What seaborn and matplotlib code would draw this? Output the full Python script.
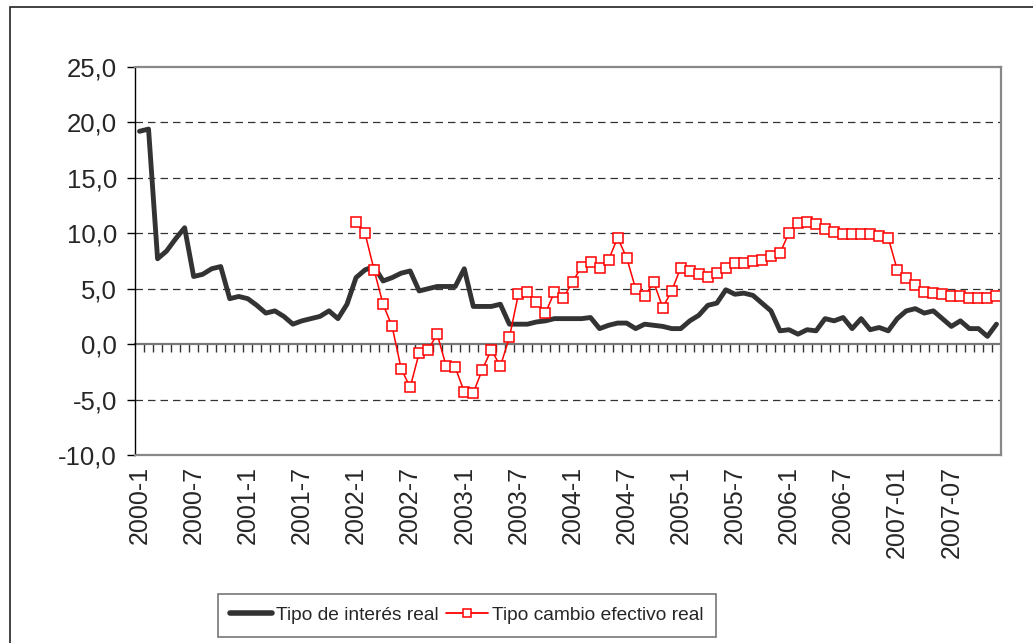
import numpy as np
import pandas as pd
import matplotlib
matplotlib.use('Agg')
import matplotlib.pyplot as plt
import seaborn as sns
from matplotlib import font_manager
from matplotlib.lines import Line2D
from matplotlib.patches import Rectangle
from matplotlib.ticker import FuncFormatter

# ---------- data (monthly, 2000-1 .. 2007-12) ----------
interes_real = [19.2, 19.4, 7.7, 8.4, 9.5, 10.5, 6.1, 6.3, 6.8, 7.0, 4.1, 4.3,
                4.1, 3.5, 2.8, 3.0, 2.5, 1.8, 2.1, 2.3, 2.5, 3.0, 2.3, 3.6,
                6.0, 6.7, 7.0, 5.7, 6.0, 6.4, 6.6, 4.8, 5.0, 5.2, 5.2, 5.2,
                6.8, 3.4, 3.4, 3.4, 3.6, 1.8, 1.8, 1.8, 2.0, 2.1, 2.3, 2.3,
                2.3, 2.3, 2.4, 1.4, 1.7, 1.9, 1.9, 1.4, 1.8, 1.7, 1.6, 1.4,
                1.4, 2.1, 2.6, 3.5, 3.7, 4.9, 4.5, 4.6, 4.4, 3.7, 3.0, 1.2,
                1.3, 0.9, 1.3, 1.2, 2.3, 2.1, 2.4, 1.4, 2.3, 1.3, 1.5, 1.2,
                2.3, 3.0, 3.2, 2.8, 3.0, 2.3, 1.6, 2.1, 1.4, 1.4, 0.7, 1.8]

# starts at 2002-1
cambio_real = [11.0, 10.0, 6.7, 3.6, 1.6, -2.2, -3.9, -0.8, -0.5, 0.9, -2.0, -2.1,
               -4.3, -4.4, -2.3, -0.5, -2.0, 0.6, 4.5, 4.7, 3.8, 2.8, 4.7, 4.2,
               5.6, 7.0, 7.4, 6.9, 7.6, 9.6, 7.8, 5.0, 4.3, 5.6, 3.3, 4.8,
               6.9, 6.6, 6.3, 6.1, 6.4, 6.9, 7.3, 7.3, 7.5, 7.6, 7.95, 8.2,
               10.05, 10.9, 11.0, 10.8, 10.4, 10.1, 9.9, 9.9, 9.9, 9.9, 9.75, 9.6,
               6.7, 6.0, 5.3, 4.7, 4.65, 4.5, 4.35, 4.3, 4.2, 4.2, 4.2, 4.35]

tick_labels = ['2000-1', '2000-7', '2001-1', '2001-7', '2002-1', '2002-7',
               '2003-1', '2003-7', '2004-1', '2004-7', '2005-1', '2005-7',
               '2006-1', '2006-7', '2007-01', '2007-07']

n = len(interes_real)
df = pd.DataFrame({
    'mes': np.arange(n),
    'interes': interes_real,
    'cambio': [np.nan] * (n - len(cambio_real)) + cambio_real,
})

sns.set_style('white')
plt.rcParams['font.family'] = ['Liberation Sans', 'DejaVu Sans']

names = {f.name for f in font_manager.fontManager.ttflist}
if 'Liberation Sans Narrow' in names:
    legend_font = {'family': 'Liberation Sans Narrow', 'size': 16.5}
else:
    legend_font = {'family': 'Liberation Sans', 'size': 13.8}

fig = plt.figure(figsize=(10.33, 6.43), dpi=100)
ax = fig.add_axes([0.1307, 0.2924, 0.8383, 0.6034])

sns.lineplot(data=df, x='mes', y='interes', ax=ax, color='#333333', linewidth=3.5)
sns.lineplot(data=df.dropna(), x='mes', y='cambio', ax=ax, color='#ff0000', linewidth=1.1,
             marker='s', markersize=6.5, markerfacecolor='white',
             markeredgecolor='#ff0000', markeredgewidth=1.1)

ax.set_xlim(-0.5, n - 0.5)
ax.set_ylim(-10, 25)
ax.set_yticks(np.arange(-10, 26, 5))
ax.yaxis.set_major_formatter(FuncFormatter(lambda v, p: f'{v:.1f}'.replace('.', ',')))
ax.set_xticks(np.arange(0, n, 6))
ax.set_xticklabels(tick_labels, rotation=90)
ax.set_xlabel('')
ax.set_ylabel('')

ax.tick_params(axis='y', direction='out', length=6, width=1, color='black',
               labelsize=18.5, pad=7, left=True)
ax.tick_params(axis='x', length=0, labelsize=18, pad=8)

for v in [-5, 5, 10, 15, 20]:
    ax.axhline(v, color='#333333', linewidth=0.9, linestyle=(0, (6, 4)), zorder=0)

ax.spines['left'].set_color('black')
ax.spines['left'].set_linewidth(1.0)
for s in ['top', 'right', 'bottom']:
    ax.spines[s].set_color('#888888')
    ax.spines[s].set_linewidth(1.6)

# zero axis with month ticks
zero = ax.secondary_xaxis(10 / 35)
zero.set_xticks(np.arange(0.5, n - 0.5, 1))
zero.tick_params(axis='x', direction='out', length=6, width=1, color='#333333',
                 labelbottom=False, labeltop=False)
zero.spines['bottom'].set_color('#777777')
zero.spines['bottom'].set_linewidth(1.6)

handles = [
    Line2D([], [], color='#333333', linewidth=4.0, solid_capstyle='round'),
    Line2D([], [], color='#ff0000', linewidth=1.3, marker='s', markersize=6,
           markerfacecolor='white', markeredgecolor='#ff0000', markeredgewidth=1.1),
]
leg = fig.legend(handles, ['Tipo de interés real', 'Tipo cambio efectivo real'],
                 loc='center', bbox_to_anchor=(0.452, 0.043), ncol=2, prop=legend_font,
                 frameon=True, fancybox=False, handlelength=2.2, handletextpad=0.2,
                 columnspacing=0.4, borderpad=0.65, borderaxespad=0)
leg.get_frame().set_edgecolor('#555555')
leg.get_frame().set_linewidth(1.2)

# outer chart frame
fig.patches.append(Rectangle((10 / 1033, -0.1), 1.2, 1.1 - 7 / 643, transform=fig.transFigure,
                             fill=False, edgecolor='#222222', linewidth=1.2))

fig.savefig('out.png', dpi=100)
plt.close(fig)
